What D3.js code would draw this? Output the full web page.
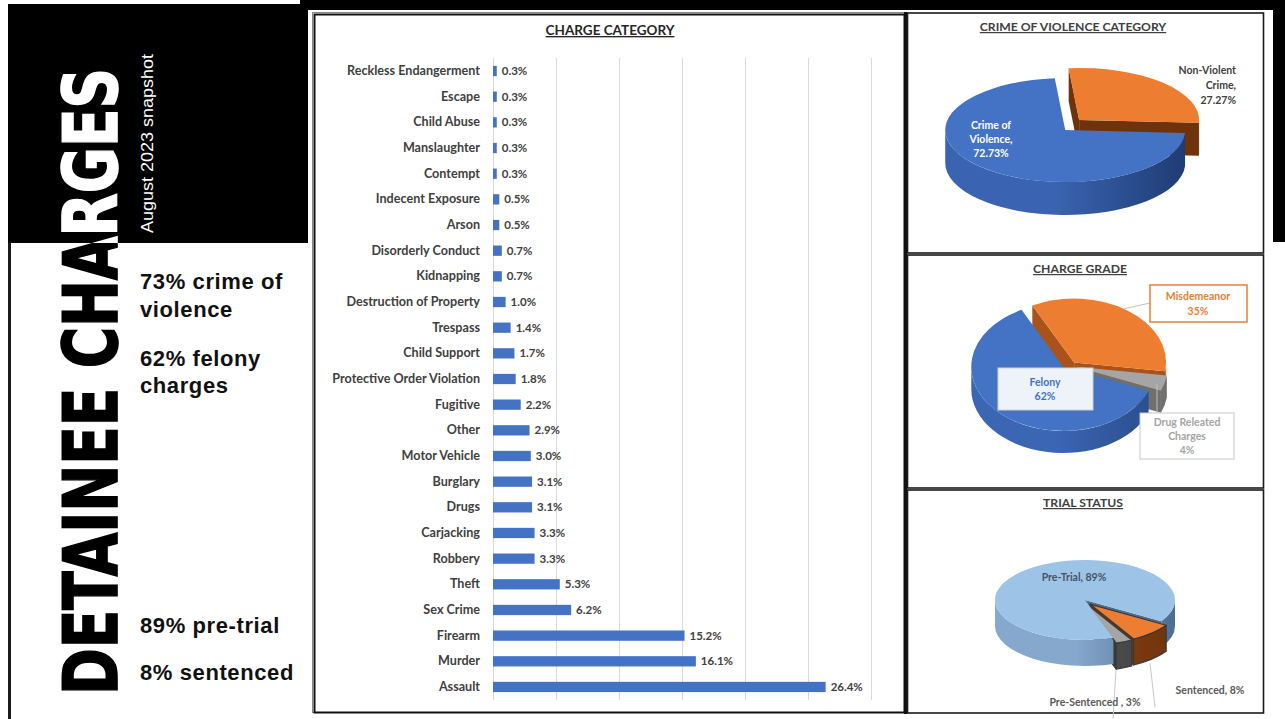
<!DOCTYPE html>
<html>
<head>
<meta charset="utf-8">
<script src="https://cdn.jsdelivr.net/npm/d3@7"></script>
<style>
body { margin: 0; background: #fff; }
svg { display: block; }
</style>
</head>
<body>
<svg id="chart" width="1285" height="719"></svg>
<script>
// charge categories, top to bottom as in the chart
let categories = ['Reckless Endangerment','Escape','Child Abuse','Manslaughter','Contempt','Indecent Exposure','Arson',
    'Disorderly Conduct','Kidnapping','Destruction of Property','Trespass','Child Support','Protective Order Violation',
    'Fugitive','Other','Motor Vehicle','Burglary','Drugs','Carjacking','Robbery','Theft','Sex Crime','Firearm','Murder','Assault'];
let shares = [0.3,0.3,0.3,0.3,0.3,0.5,0.5,0.7,0.7,1.0,1.4,1.7,1.8,2.2,2.9,3.0,3.1,3.1,3.3,3.3,5.3,6.2,15.2,16.1,26.4];
let xTicks = [0,5,10,15,20,25,30];

let violenceLabels = [['Non-Violent','Crime'], ['Crime of','Violence']];
let violenceValues = [27.27, 72.73];
let gradeLabels = [['Misdemeanor'], ['Drug Releated','Charges'], ['Felony']];
let gradeValues = [35, 4, 62];
let trialLabels = ['Sentenced', 'Pre-Sentenced ', 'Pre-Trial'];
let trialValues = [8, 3, 89];

let headline = ['73% crime of', 'violence', '62% felony', 'charges', '89% pre-trial', '8% sentenced'];

let svg = d3.select('#chart');
let defs = svg.append('defs');
let chartFont = 'Lato, "Open Sans", sans-serif';
let rad = d => d * Math.PI / 180;

// ---- black frame and panel borders
svg.append('rect').attr('x', 8).attr('y', 4).attr('width', 300).attr('height', 239).attr('fill', '#000');
svg.append('rect').attr('x', 300).attr('y', 0).attr('width', 985).attr('height', 10).attr('fill', '#000');
svg.append('rect').attr('x', 1273).attr('y', 0).attr('width', 12).attr('height', 242).attr('fill', '#000');
svg.append('line').attr('x1', 9.5).attr('x2', 9.5).attr('y1', 243).attr('y2', 719)
    .attr('stroke', '#1a1a1a').attr('stroke-width', 3);

svg.append('rect').attr('x', 312.5).attr('y', 12.5).attr('width', 592).attr('height', 700)
    .attr('fill', 'none').attr('stroke', '#888').attr('stroke-width', 1);
svg.append('rect').attr('x', 314.5).attr('y', 14.5).attr('width', 590).attr('height', 698)
    .attr('fill', 'none').attr('stroke', '#111').attr('stroke-width', 2);
svg.append('line').attr('x1', 905.5).attr('x2', 905.5).attr('y1', 12).attr('y2', 714)
    .attr('stroke', '#111').attr('stroke-width', 3);
[[13, 240], [255, 233], [490, 223]].forEach(p => {
    svg.append('rect').attr('x', 907.5).attr('y', p[0]).attr('width', 356).attr('height', p[1])
        .attr('fill', 'none').attr('stroke', '#1a1a1a').attr('stroke-width', 1.6);
});

// ---- left title block: white over the black block, black below it (y = 243)
let titleBase = 695;
let tg0 = defs.append('linearGradient').attr('id', 'titleFill')
    .attr('gradientUnits', 'userSpaceOnUse').attr('x1', 0).attr('x2', 1000).attr('y1', 0).attr('y2', 0);
tg0.append('stop').attr('offset', (titleBase - 243) / 1000).attr('stop-color', '#000');
tg0.append('stop').attr('offset', (titleBase - 243) / 1000).attr('stop-color', '#fff');
svg.append('text')
    .attr('transform', `translate(117,${titleBase}) rotate(-90)`)
    .attr('textLength', 627).attr('lengthAdjust', 'spacingAndGlyphs')
    .style('font-family', '"DejaVu Sans Condensed", "Liberation Sans Narrow", sans-serif')
    .style('font-weight', 'bold').style('font-size', '75px')
    .attr('fill', 'url(#titleFill)').attr('stroke', 'url(#titleFill)').attr('stroke-width', 1.6)
    .text('DETAINEE CHARGES');
svg.append('text')
    .attr('transform', 'translate(153,233) rotate(-90)')
    .attr('textLength', 179).attr('lengthAdjust', 'spacingAndGlyphs')
    .style('font-family', '"Liberation Sans Narrow", "Liberation Sans", sans-serif')
    .style('font-size', '17px').attr('fill', '#fff')
    .text('August 2023 snapshot');

let headlineY = [289, 317, 366, 393, 633, 680];
svg.append('g').selectAll('text').data(headline).join('text')
    .attr('x', 140).attr('y', (d, i) => headlineY[i])
    .style('font-family', '"Liberation Sans", Arial, sans-serif')
    .style('font-weight', 'bold').style('font-size', '22px').style('letter-spacing', '0.6px')
    .attr('fill', '#111')
    .text(d => d);

// ---- bar chart
let x = d3.scaleLinear().domain([0, 30]).range([493, 871]);
let y = d3.scaleBand().domain(categories).range([58.2, 699.8]).paddingInner(0.6).paddingOuter(0.3);

let bars = svg.append('g');
bars.append('text').attr('x', 610).attr('y', 35).attr('text-anchor', 'middle')
    .style('font-family', chartFont).style('font-weight', 'bold').style('font-size', '13.5px')
    .style('text-decoration', 'underline').attr('fill', '#262626')
    .text('CHARGE CATEGORY');

let grid = bars.append('g').attr('transform', 'translate(0,700)')
    .call(d3.axisBottom(x).tickValues(xTicks).tickSize(-642).tickFormat(''));
grid.select('.domain').remove();
grid.selectAll('line').attr('stroke', '#d9d9d9');

bars.append('g').selectAll('rect').data(shares).join('rect')
    .attr('x', x(0))
    .attr('y', (d, i) => y(categories[i]))
    .attr('width', d => x(d) - x(0))
    .attr('height', y.bandwidth())
    .attr('fill', '#4472C4');

bars.append('g').selectAll('text').data(shares).join('text')
    .attr('x', d => x(d) + 5)
    .attr('y', (d, i) => y(categories[i]) + y.bandwidth() / 2)
    .attr('dy', '0.35em')
    .style('font-family', chartFont).style('font-weight', 'bold').style('font-size', '11.5px')
    .attr('fill', '#404040')
    .text(d => d3.format('.1f')(d) + '%');

let yAxis = bars.append('g').attr('transform', `translate(${x(0)},0)`)
    .call(d3.axisLeft(y).tickSize(0).tickPadding(13));
yAxis.select('.domain').remove();
yAxis.selectAll('text')
    .style('font-family', chartFont).style('font-weight', 'bold').style('font-size', '12.6px')
    .attr('fill', '#404040');

// ---- 3D pies
function sideGradient(id, cx, rx, dark, light) {
    let gr = defs.append('linearGradient').attr('id', id)
        .attr('gradientUnits', 'userSpaceOnUse')
        .attr('x1', cx - rx).attr('x2', cx + rx).attr('y1', 0).attr('y2', 0);
    gr.append('stop').attr('offset', 0).attr('stop-color', light);
    gr.append('stop').attr('offset', 0.45).attr('stop-color', light);
    gr.append('stop').attr('offset', 1).attr('stop-color', dark);
}

function pie3d(cfg) {
    let g = svg.append('g');
    let arcs = d3.pie().sort(null).startAngle(rad(cfg.start)).endAngle(rad(cfg.start) + 2 * Math.PI)(cfg.values);
    let sides = [], tops = [];
    arcs.forEach((a, i) => {
        let m = (a.startAngle + a.endAngle) / 2, e = cfg.explode[i];
        let ox = e * Math.sin(m), oy = -e * Math.cos(m) * cfg.tilt;
        let P = (t, dz) => [cfg.cx + ox + cfg.rx * Math.sin(t), cfg.cy + oy - cfg.ry * Math.cos(t) + (dz || 0)];
        let C = dz => [cfg.cx + ox, cfg.cy + oy + (dz || 0)];
        let a0 = a.startAngle, a1 = a.endAngle, h = cfg.h;
        let gid = cfg.id + 'side' + i;
        sideGradient(gid, cfg.cx + ox, cfg.rx, cfg.sideDark[i], cfg.sideLight[i]);
        // outer wall, only the part facing the viewer
        for (let k = -1; k <= 2; k++) {
            let lo = Math.max(a0, Math.PI / 2 + 2 * Math.PI * k), hi = Math.min(a1, 3 * Math.PI / 2 + 2 * Math.PI * k);
            if (hi > lo) {
                let p0 = P(lo), p1 = P(hi), q0 = P(lo, h), q1 = P(hi, h);
                sides.push({
                    d: `M${p0}A${cfg.rx},${cfg.ry} 0 0 1 ${p1}L${q1}A${cfg.rx},${cfg.ry} 0 0 0 ${q0}Z`,
                    fill: `url(#${gid})`, key: (p0[1] + p1[1]) / 2 + h, stroke: cfg.stroke[i]
                });
            }
        }
        // cut faces
        [[a0, Math.sin(a0) < 0], [a1, Math.sin(a1) > 0]].forEach(w => {
            if (!w[1]) return;
            let p = P(w[0]), q = P(w[0], h), c = C(), cd = C(h);
            sides.push({ d: `M${c}L${p}L${q}L${cd}Z`, fill: cfg.sideDark[i], key: (p[1] + c[1]) / 2, stroke: cfg.stroke[i] });
        });
        let large = (a1 - a0) > Math.PI ? 1 : 0;
        tops.push({ d: `M${C()}L${P(a0)}A${cfg.rx},${cfg.ry} 0 ${large} 1 ${P(a1)}Z`, fill: cfg.colors[i], stroke: cfg.stroke[i] });
    });
    sides.sort((p, q) => p.key - q.key);
    g.selectAll('path.side').data(sides).join('path').attr('class', 'side')
        .attr('d', d => d.d).attr('fill', d => d.fill)
        .attr('stroke', d => d.stroke || 'none').attr('stroke-width', 1.2).attr('stroke-linejoin', 'round');
    g.selectAll('path.top').data(tops).join('path').attr('class', 'top')
        .attr('d', d => d.d).attr('fill', d => d.fill)
        .attr('stroke', d => d.stroke || 'none').attr('stroke-width', 1.2).attr('stroke-linejoin', 'round');
    return g;
}

function panelTitle(txt, cx, yy) {
    svg.append('text').attr('x', cx).attr('y', yy).attr('text-anchor', 'middle')
        .style('font-family', chartFont).style('font-weight', 'bold').style('font-size', '12.2px')
        .style('text-decoration', 'underline').attr('fill', '#404040')
        .text(txt);
}

function lines(g, arr, cx, y0, step, color, anchor) {
    g.append('text').attr('text-anchor', anchor || 'middle')
        .style('font-family', chartFont).style('font-weight', 'bold').style('font-size', '10.5px')
        .attr('fill', color)
        .selectAll('tspan').data(arr).join('tspan')
        .attr('x', cx).attr('y', (d, i) => y0 + i * step)
        .text(d => d);
}

// crime of violence
panelTitle('CRIME OF VIOLENCE CATEGORY', 1073, 31);
pie3d({
    id: 'v', values: violenceValues, cx: 1068, cy: 128, rx: 120, ry: 52, h: 33, start: -5,
    explode: [16, 4], tilt: 0.7,
    colors: ['#ED7D31', '#4472C4'], sideDark: ['#6e330b', '#1f3c74'], sideLight: ['#8a4210', '#3a64b2'], stroke: [null, null]
});
let vg = svg.append('g');
lines(vg, [violenceLabels[0][0], violenceLabels[0][1] + ',', violenceValues[0] + '%'], 1236, 74, 15, '#404040', 'end');
lines(vg, [violenceLabels[1][0], violenceLabels[1][1] + ',', violenceValues[1] + '%'], 991, 129, 14, '#fff');

// charge grade
panelTitle('CHARGE GRADE', 1080, 273);
pie3d({
    id: 'g', values: gradeValues, cx: 1066, cy: 366, rx: 92, ry: 64, h: 22, start: -27,
    explode: [14, 10, 4], tilt: 0.3,
    colors: ['#ED7D31', '#A5A5A5', '#4472C4'], sideDark: ['#a9521a', '#6f6f6f', '#2a4d8c'], sideLight: ['#cf6a25', '#8c8c8c', '#3b66b4'], stroke: [null, null, null]
});
let gg = svg.append('g');
gg.append('line').attr('x1', 1150).attr('y1', 303).attr('x2', 1123).attr('y2', 309).attr('stroke', '#bfbfbf');
gg.append('line').attr('x1', 1157).attr('y1', 384).attr('x2', 1157).attr('y2', 413).attr('stroke', '#bfbfbf');
gg.append('rect').attr('x', 1150).attr('y', 285).attr('width', 97).attr('height', 37)
    .attr('fill', '#fff').attr('stroke', '#ED7D31').attr('stroke-width', 1.5);
gg.append('rect').attr('x', 998).attr('y', 368).attr('width', 95).attr('height', 42)
    .attr('fill', '#eef2f9').attr('stroke', '#d0d0d0').attr('stroke-width', 1);
gg.append('rect').attr('x', 1140).attr('y', 413).attr('width', 94).attr('height', 46)
    .attr('fill', '#fff').attr('stroke', '#c8c8c8').attr('stroke-width', 1);
lines(gg, [gradeLabels[0][0], gradeValues[0] + '%'], 1198, 300, 15, '#ED7D31');
lines(gg, [gradeLabels[2][0], gradeValues[2] + '%'], 1045, 386, 14, '#4472C4');
lines(gg, [gradeLabels[1][0], gradeLabels[1][1], gradeValues[1] + '%'], 1187, 426, 14, '#a5a5a5');

// trial status
panelTitle('TRIAL STATUS', 1083, 507);
pie3d({
    id: 't', values: trialValues, cx: 1085, cy: 600, rx: 90, ry: 40, h: 26, start: 122,
    explode: [7, 7, 0], tilt: 0.8,
    colors: ['#ED7D31', '#A5A5A5', '#9DC3E6'], sideDark: ['#6e330b', '#3a3a3a', '#4d6d8f'], sideLight: ['#8a4210', '#555', '#86a8cc'], stroke: ['#3a3a3a', '#3a3a3a', null]
});
let tg = svg.append('g');
tg.append('line').attr('x1', 1116).attr('y1', 670).attr('x2', 1113).attr('y2', 719).attr('stroke', '#c8c8c8');
tg.append('line').attr('x1', 1150).attr('y1', 663).attr('x2', 1155).attr('y2', 707).attr('stroke', '#c8c8c8');
lines(tg, [trialLabels[2] + ', ' + trialValues[2] + '%'], 1074, 581, 14, '#44546A');
lines(tg, [trialLabels[0] + ', ' + trialValues[0] + '%'], 1210, 694, 14, '#595959');
lines(tg, [trialLabels[1] + ', ' + trialValues[1] + '%'], 1095, 706, 14, '#595959');
</script>
</body>
</html>
